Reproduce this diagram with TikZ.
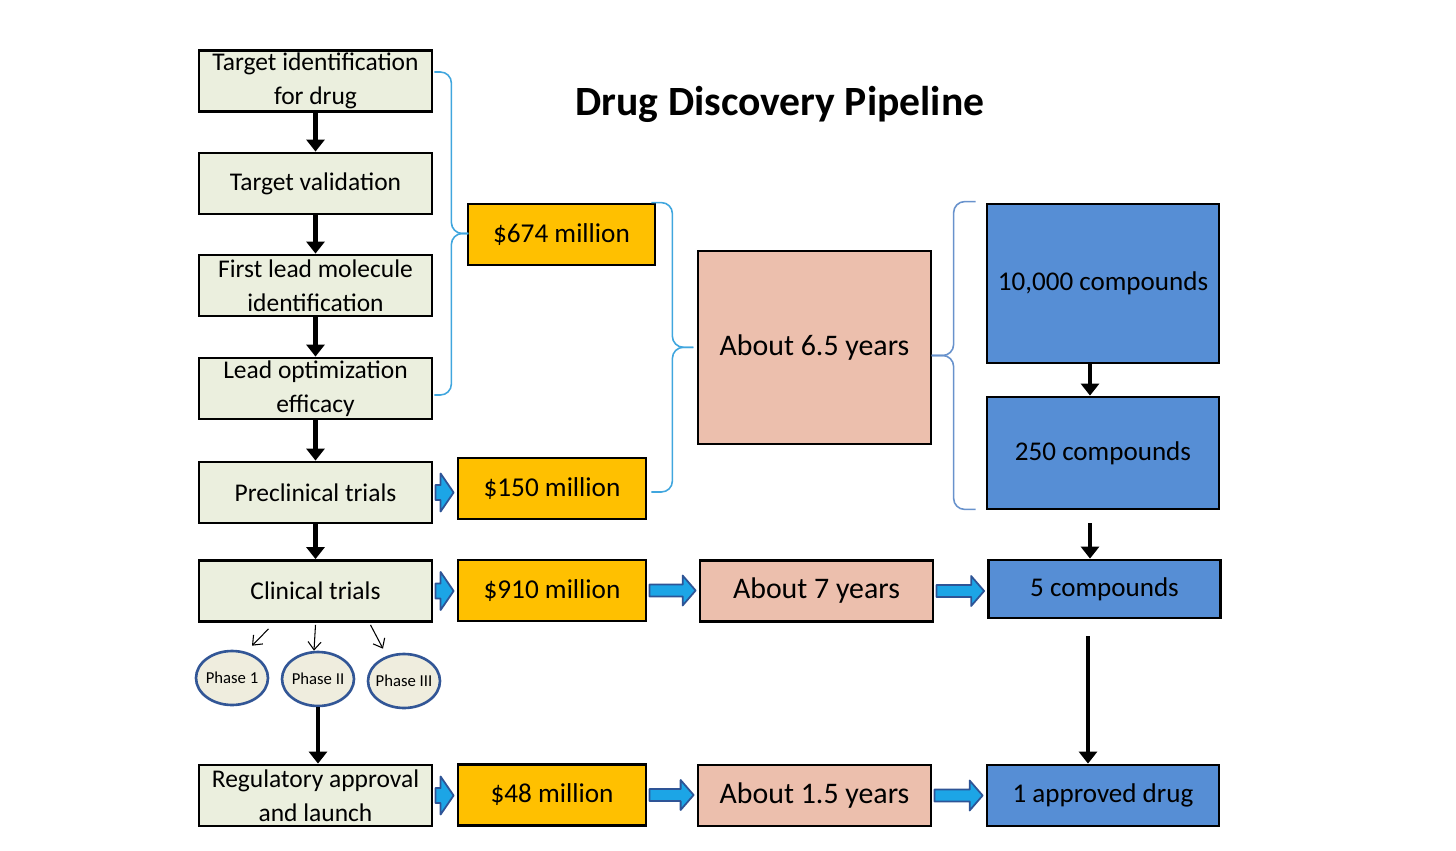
\documentclass[tikz,border=0pt]{standalone}
\usepackage{fontspec}
\setmainfont{Carlito}
\usetikzlibrary{arrows.meta,calc,shapes.geometric}

\definecolor{stepgreen}{RGB}{235,239,222}
\definecolor{costorange}{RGB}{255,192,0}
\definecolor{timepink}{RGB}{236,191,173}
\definecolor{cmpdblue}{RGB}{86,142,213}
\definecolor{flowblue}{RGB}{28,165,230}
\definecolor{flowedge}{RGB}{46,84,150}
\definecolor{bracecyan}{RGB}{64,166,222}
\definecolor{bracegrey}{RGB}{104,146,204}
\definecolor{phaseedge}{RGB}{50,86,150}
\definecolor{phasefill}{RGB}{239,237,222}

\tikzset{
  box/.style={draw=black, line width=1.6pt, inner sep=0pt, align=center},
  stepbox/.style={box, fill=stepgreen, minimum width=4.66cm, minimum height=1.22cm,
    font=\fontsize{14.5}{19.5}\selectfont},
  costbox/.style={box, fill=costorange, minimum width=3.76cm, minimum height=1.22cm,
    font=\fontsize{15.5}{19}\selectfont},
  timebox/.style={box, fill=timepink, minimum width=4.66cm, minimum height=1.22cm,
    font=\fontsize{17}{20}\selectfont},
  cmpdbox/.style={box, fill=cmpdblue, minimum width=4.64cm, minimum height=1.22cm,
    font=\fontsize{15.4}{19}\selectfont},
  phase/.style={ellipse, draw=phaseedge, line width=1.5pt, fill=phasefill, inner ysep=0pt, inner xsep=-5pt,
    minimum width=1.44cm, minimum height=1.08cm, font=\fontsize{9.5}{11}\selectfont},
  blk/.style={line width=2.8pt, -{Triangle[width=0.36cm,length=0.24cm]}},
  thinarr/.style={line width=0.6pt, -{Straight Barb[length=0.16cm,width=0.26cm]}},
  flowarr/.style={fill=flowblue, draw=flowedge, line width=1pt, line join=round},
  brc/.style={draw=bracecyan, line width=0.9pt, rounded corners=0.22cm},
}

% blue block arrow: from node, to node, half shaft, half head (px)
\newcommand{\flowarrow}[4]{%
  \path ($(#1.east)+(2,0)$) coordinate (fa-s) ($(#1.east -| #2.west)+(-3,0)$) coordinate (fa-e);
  \filldraw[flowarr] ($(fa-s)+(0,-#3)$) -- ($(fa-e)+(-13,-#3)$) -- ($(fa-e)+(-13,-#4)$) -- (fa-e)
    -- ($(fa-e)+(-13,#4)$) -- ($(fa-e)+(-13,#3)$) -- ($(fa-s)+(0,#3)$) -- cycle;
}
% curly bracket: top end, bottom end, offset of the back line (px, sign gives side)
\newcommand{\sidebrace}[4][]{%
  \path (#2) coordinate (sb-a) (#3) coordinate (sb-b) ($(sb-a)!0.5!(sb-b)$) coordinate (sb-m);
  \draw[brc,#1] (sb-a) -- ($(sb-a)+(#4,0)$) -- ($(sb-m)+(#4,0)$) -- ($(sb-m)+(2*#4,0)$);
  \draw[brc,#1] (sb-b) -- ($(sb-b)+(#4,0)$) -- ($(sb-m)+(#4,0)$) -- ($(sb-m)+(2*#4,0)$);
}

\begin{document}
\begin{tikzpicture}[x=0.02cm, y=-0.02cm]
  \useasboundingbox (0,0) rectangle (1456,851);

  \node (title) at (780,104) {\fontsize{23.7}{28}\selectfont\bfseries Drug Discovery Pipeline};

  % left column
  \node[stepbox] (tid) at (315.5,81) {Target identification\\for drug};
  \node[stepbox] (tval) at (315.5,183.5) {Target validation};
  \node[stepbox] (lead) at (315.5,285.5) {First lead molecule\\identification};
  \node[stepbox] (lopt) at (315.5,388.5) {Lead optimization\\efficacy};
  \node[stepbox] (precl) at (315.5,492.5) {Preclinical trials};
  \node[stepbox] (clin) at (315.5,591) {Clinical trials};
  \node[stepbox] (reg) at (315.5,795.5) {Regulatory approval\\and launch};

  \node[phase] (ph1) at (232,678) {Phase 1};
  \node[phase] (ph2) at (318,679) {Phase II};
  \node[phase] (ph3) at (404,681) {Phase III};

  % costs
  \node[costbox, minimum width=3.74cm] (m674) at (561.5,234.5) {\$674 million};
  \node[costbox] (m150) at (552,488.5) {\$150 million};
  \node[costbox] (m910) at (552,590.5) {\$910 million};
  \node[costbox] (m48) at (552,795) {\$48 million};

  % time
  \node[timebox, minimum height=3.86cm] (yr65) at (814.5,347.5) {About 6.5 years};
  \node[timebox] (yr7) at (816.5,591) {About 7 years};
  \node[timebox] (yr15) at (814.5,795.5) {About 1.5 years};

  % compounds
  \node[cmpdbox, minimum height=3.18cm] (c10k) at (1103,283.5) {10,000 compounds};
  \node[cmpdbox, minimum height=2.24cm] (c250) at (1103,453) {250 compounds};
  \node[cmpdbox, minimum height=1.16cm] (c5) at (1104.5,589) {5 compounds};
  \node[cmpdbox] (c1) at (1103,795.5) {1 approved drug};

  % black arrows
  \draw[blk] (tid) -- (tval);
  \draw[blk] (tval) -- (lead);
  \draw[blk] (lead) -- (lopt);
  \draw[blk] (lopt) -- (precl);
  \draw[blk] (precl) -- (clin);
  \draw[blk] (ph2) -- (ph2 |- reg.north);
  \draw[blk] ([xshift=-0.26cm]c10k.south) -- ([xshift=-0.26cm]c10k.south |- c250.north);
  \draw[blk, shorten <=0.26cm] ([xshift=-0.26cm]c250.south) -- ([xshift=-0.26cm]c250.south |- c5.north);
  \draw[blk, line width=2.2pt, shorten <=0.34cm] ([xshift=-0.33cm]c5.south) -- ([xshift=-0.33cm]c5.south |- c1.north);

  \draw[thinarr] ($(clin.south)+(-47,6)$) -- ($(ph1.north)+(20,-4)$);
  \draw[thinarr] ($(clin.south)+(0,2)$) -- ($(ph2.north)+(-4,0)$);
  \draw[thinarr] ($(clin.south)+(55,2)$) -- ($(ph3.north)+(-21,-4)$);

  % blue arrows
  \flowarrow{precl}{m150}{7.5}{19}
  \flowarrow{clin}{m910}{7.5}{19}
  \flowarrow{reg}{m48}{7.5}{19}
  \flowarrow{m910}{yr7}{6}{15}
  \flowarrow{yr7}{c5}{6}{15}
  \flowarrow{m48}{yr15}{6}{15}
  \flowarrow{yr15}{c1}{6}{15}

  % braces
  \sidebrace{$(tid.east)+(1,-9)$}{$(lopt.east)+(1,6.5)$}{17}
  \sidebrace{$(m674.north east)+(-5,0)$}{$(m150.east)+(4,3.5)$}{21}
  \sidebrace[draw=bracegrey]{$(c10k.north west)+(-10,-1)$}{$(c250.south west)+(-10,-1)$}{-22}
\end{tikzpicture}
\end{document}
